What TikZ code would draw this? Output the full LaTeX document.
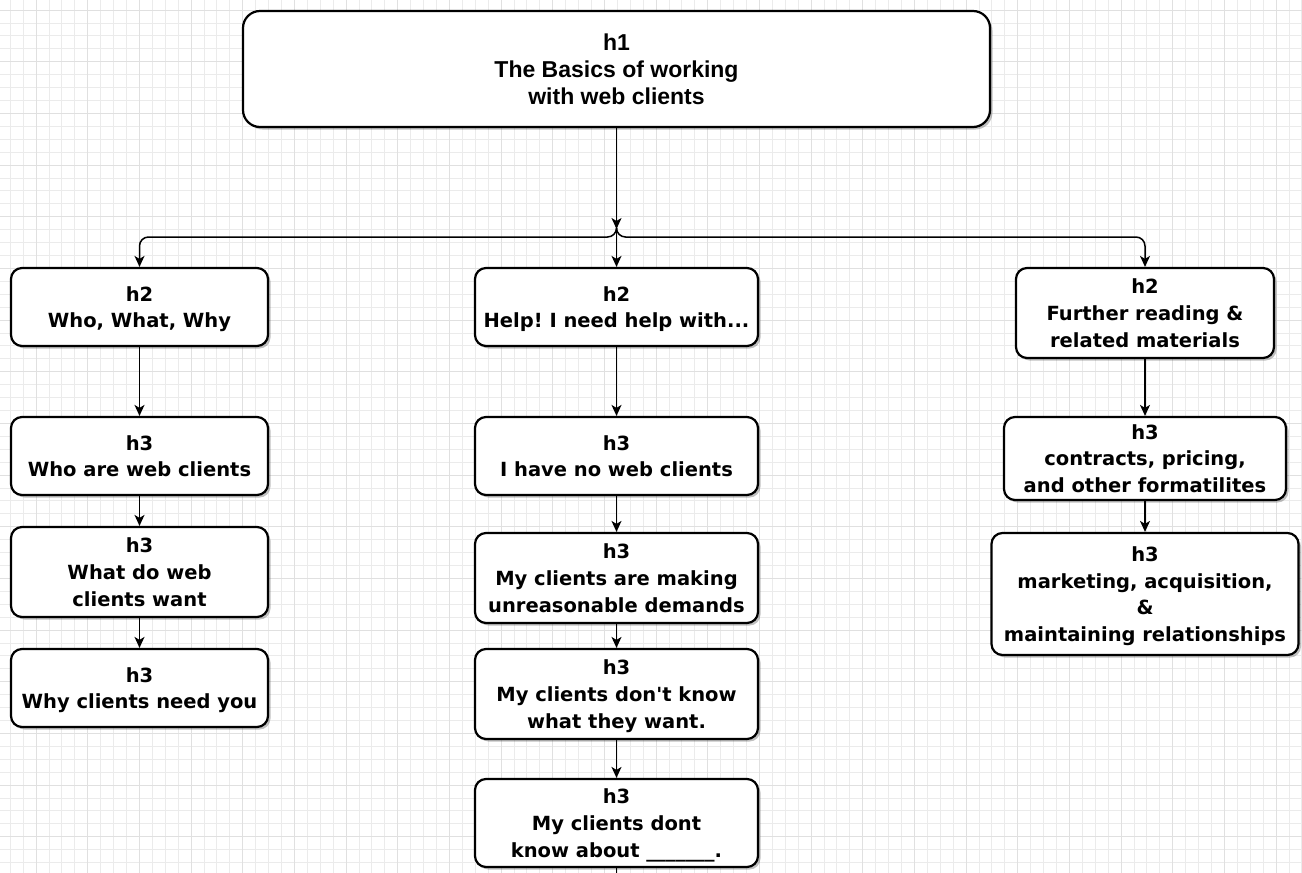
\documentclass[tikz,border=0pt]{standalone}
\usepackage{fontspec}
\setmainfont{DejaVu Sans}[Ligatures=TeXOff]
\newfontfamily\hfont{Liberation Sans}[Ligatures=TeXOff]
\usetikzlibrary{arrows.meta,shadows}
\frenchspacing
\tikzset{
  minorgrid/.style={draw=black!8, line width=0.8pt},
  majorgrid/.style={draw=black!12, line width=0.9pt},
  box/.style={draw=black, line width=2.2pt, rounded corners=11pt, fill=white,
    align=center, inner sep=0pt, text=black, text depth=-3pt,
    font=\bfseries\fontsize{19.5}{26.6}\selectfont,
    drop shadow={shadow xshift=2.5pt, shadow yshift=-2.5pt, opacity=0.35, fill=black!70}},
  titlebox/.style={box, rounded corners=17pt, text depth=-2pt, font=\hfont\bfseries\fontsize{23}{27}\selectfont},
  conn/.style={draw=black, line width=1.5pt, -{Stealth[length=11pt,width=10pt,inset=3pt]}},
  plain/.style={draw=black, line width=1.5pt},
}
\begin{document}
\begin{tikzpicture}[x=1pt,y=-1pt]
\useasboundingbox (0,0) rectangle (1302,873);
\fill[white] (0,0) rectangle (1302,873);
\begin{scope}
\clip (0,0) rectangle (1302,873);
\foreach \k in {-2,...,98} { \draw[minorgrid] ({36+\k*12.917},0) -- ({36+\k*12.917},873); }
\foreach \k in {0,...,66} { \draw[minorgrid] (0,{10+\k*12.917}) -- (1302,{10+\k*12.917}); }
\foreach \k in {0,4,...,96} { \draw[majorgrid] ({36+\k*12.917},0) -- ({36+\k*12.917},873); }
\foreach \k in {0,4,...,64} { \draw[majorgrid] (0,{10+\k*12.917}) -- (1302,{10+\k*12.917}); }
\end{scope}

\node[titlebox, minimum width=747pt, minimum height=116pt] (h1) at (616.5,69) {h1\\The Basics of working\\with web clients};

\node[box, minimum width=257pt, minimum height=78pt] (a) at (139.5,307) {h2\\Who, What, Why};
\node[box, minimum width=283pt, minimum height=78pt] (b) at (616.5,307) {h2\\Help! I need help with...};
\node[box, minimum width=258pt, minimum height=90pt] (c) at (1145,313) {h2\\Further reading \&\\related materials};

\node[box, minimum width=257pt, minimum height=78pt] (a1) at (139.5,456) {h3\\Who are web clients};
\node[box, minimum width=257pt, minimum height=90pt] (a2) at (139.5,572) {h3\\What do web\\clients want};
\node[box, minimum width=257pt, minimum height=78pt] (a3) at (139.5,688) {h3\\Why clients need you};

\node[box, minimum width=283pt, minimum height=78pt] (b1) at (616.5,456) {h3\\I have no web clients};
\node[box, minimum width=283pt, minimum height=90pt] (b2) at (616.5,578) {h3\\My clients are making\\unreasonable demands};
\node[box, minimum width=283pt, minimum height=90pt] (b3) at (616.5,694) {h3\\My clients don't know\\what they want.};
\node[box, minimum width=283pt, minimum height=88pt] (b4) at (616.5,823) {h3\\My clients dont\\know about \_\_\_\_\_\_\_.};

\node[box, minimum width=282pt, minimum height=83pt] (c1) at (1145,458.5) {h3\\contracts, pricing,\\and other formatilites};
\node[box, minimum width=307pt, minimum height=122pt] (c2) at (1145,594) {h3\\marketing, acquisition,\\\&\\maintaining relationships};

\coordinate (J) at (616.5,229);
\coordinate (Jb) at (616.5,237);
\coordinate (end) at (616.5,873);

\draw[conn] (h1.south) -- (J);
\draw[conn] (J) -- (b.north);
\draw[conn, rounded corners=9pt] (J) -- (Jb) -| (a.north);
\draw[conn, rounded corners=9pt] (J) -- (Jb) -| (c.north);

\draw[conn] (a.south) -- (a1.north);
\draw[conn] (a1.south) -- (a2.north);
\draw[conn] (a2.south) -- (a3.north);

\draw[conn] (b.south) -- (b1.north);
\draw[conn] (b1.south) -- (b2.north);
\draw[conn] (b2.south) -- (b3.north);
\draw[conn] (b3.south) -- (b4.north);
\draw[plain] (b4.south) -- (end);

\draw[conn] (c.south) -- (c1.north);
\draw[conn] (c1.south) -- (c2.north);
\end{tikzpicture}
\end{document}
